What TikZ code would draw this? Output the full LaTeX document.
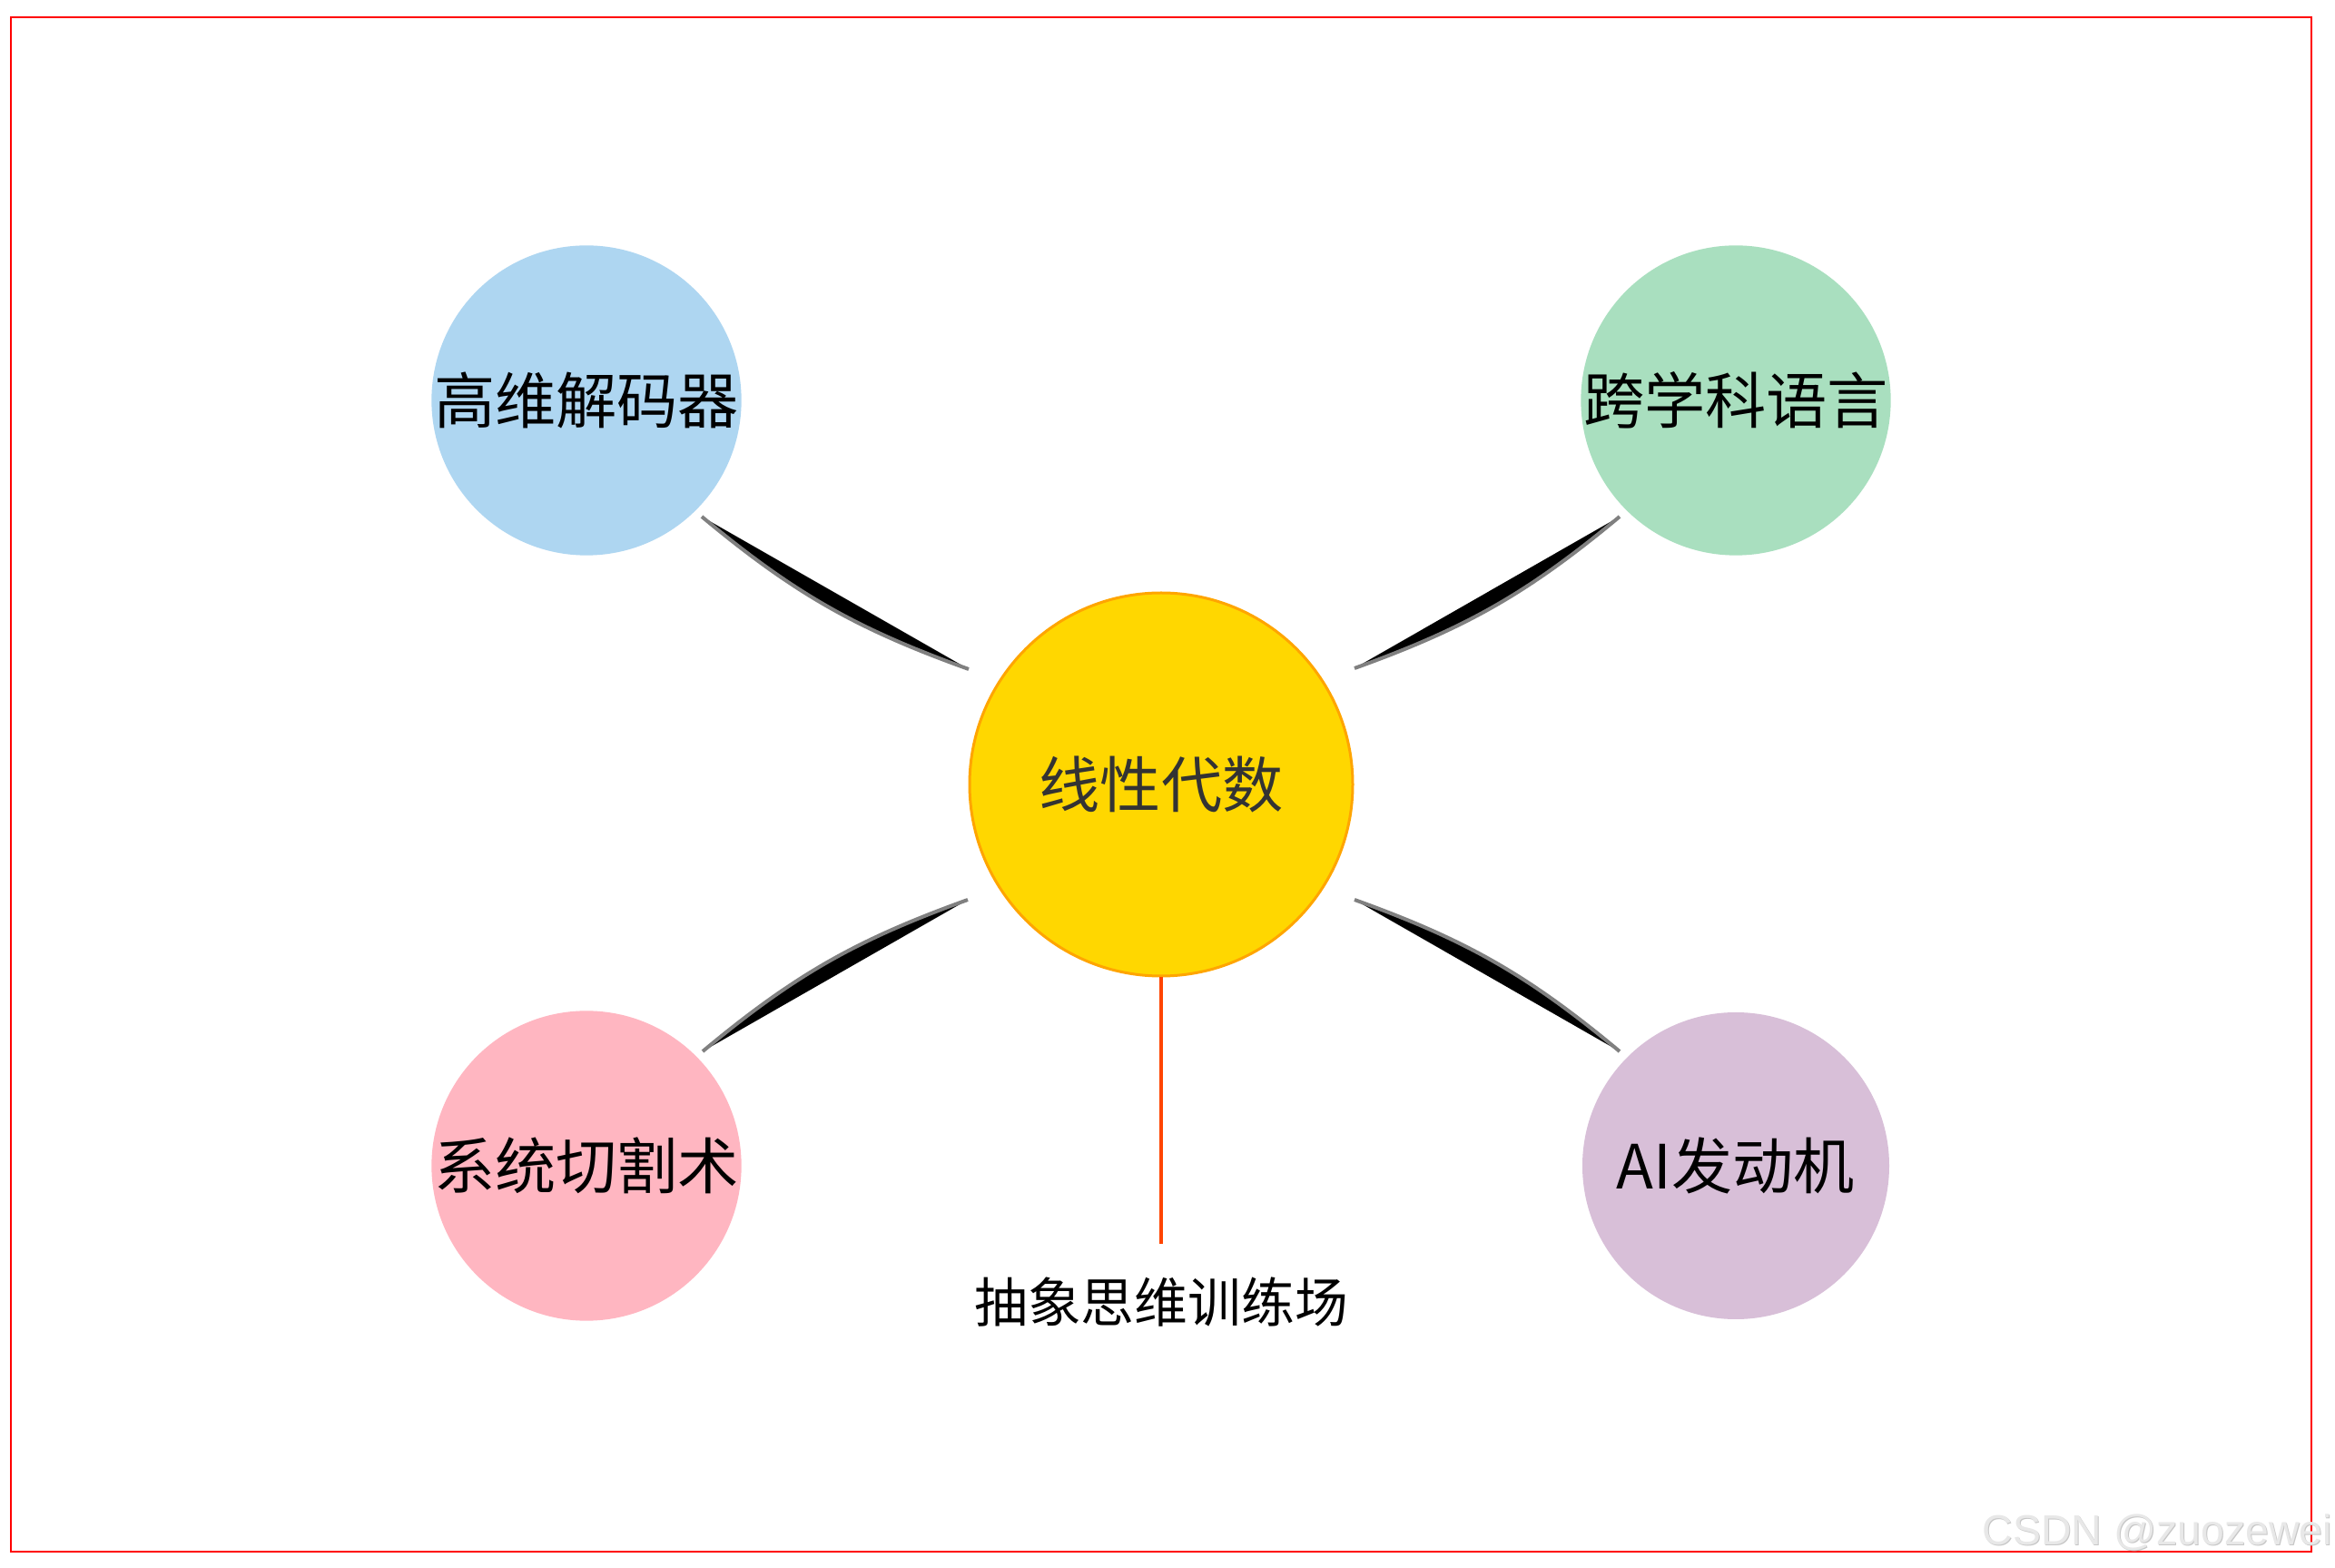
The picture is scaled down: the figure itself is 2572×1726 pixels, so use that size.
\documentclass[tikz,border=0pt]{standalone}
\usepackage{fontspec}
\newfontfamily\cjk{Noto Sans CJK SC}
\newfontfamily\wmfont{Liberation Sans}
\usetikzlibrary{calc}
\definecolor{cBlue}{HTML}{AED6F1}
\definecolor{cGreen}{HTML}{A9DFBF}
\definecolor{cPink}{HTML}{FFB6C1}
\definecolor{cThistle}{HTML}{D8BFD8}
\definecolor{cGold}{HTML}{FFD700}
\definecolor{cOrange}{HTML}{FFA500}
\definecolor{cRed}{HTML}{FF4500}
\definecolor{cGray}{HTML}{808080}
\definecolor{cDark}{HTML}{333333}
\begin{document}
\begin{tikzpicture}[x=0.25pt,y=0.25pt,
  outer/.style={circle, inner sep=0pt, minimum size=84.5pt,
    font=\cjk\fontsize{16.8}{18}\selectfont, text=black},
  hub/.style={circle, inner sep=0pt, minimum size=105.5pt, draw=cOrange,
    line width=0.75pt, fill=cGold, font=\cjk\fontsize{16.8}{18}\selectfont, text=cDark},
  wedgefill/.style={fill=black},
  wedgeedge/.style={draw=cGray, line width=1pt},
]
\useasboundingbox (0,0) rectangle (2572,1726);
\fill[white] (0,0) rectangle (2572,1726);
\draw[red, line width=0.5pt] (12,17) rectangle (2546,1707);

\node[hub] (c) at (1279,862) {线性代数};
\node[outer, fill=cBlue] (tl) at (646,1285) {高维解码器};
\node[outer, fill=cGreen] (tr) at (1912,1285) {跨学科语言};
\node[outer, fill=cPink] (bl) at (646,442) {系统切割术};
\node[outer, fill=cThistle] (br) at (1912,442) {AI发动机};

\coordinate (a1) at ($(tl.center)+(127,-128)$);
\coordinate (b1) at ($(c.center)+(-212,127)$);
\coordinate (a2) at ($(tr.center)+(-128,-128)$);
\coordinate (b2) at ($(c.center)+(213,128)$);
\coordinate (a3) at ($(bl.center)+(128,126)$);
\coordinate (b3) at ($(c.center)+(-213,-127)$);
\coordinate (a4) at ($(br.center)+(-128,126)$);
\coordinate (b4) at ($(c.center)+(213,-127)$);

\fill[wedgefill] (a1) to[bend right=10] (b1) -- cycle;
\draw[wedgeedge] (a1) to[bend right=10] (b1);
\fill[wedgefill] (a2) to[bend left=10] (b2) -- cycle;
\draw[wedgeedge] (a2) to[bend left=10] (b2);
\fill[wedgefill] (a3) to[bend left=10] (b3) -- cycle;
\draw[wedgeedge] (a3) to[bend left=10] (b3);
\fill[wedgefill] (a4) to[bend right=10] (b4) -- cycle;
\draw[wedgeedge] (a4) to[bend right=10] (b4);

\coordinate (lineend) at (1279,356);
\draw[cRed, line width=1pt] (c.south) -- (lineend);
\node[font=\cjk\fontsize{14.7}{16}\selectfont, text=black] (lbl) at (1279,292) {抽象思维训练场};

\node[anchor=base west, inner sep=0pt, font=\wmfont\fontsize{11.6}{13}\selectfont, text=gray!45] (wm0) at (2184,24) {CSDN @zuozewei};
\node[anchor=base west, inner sep=0pt, font=\wmfont\fontsize{11.6}{13}\selectfont, text=gray!18] (wm) at (2183,25) {CSDN @zuozewei};
\end{tikzpicture}
\end{document}
